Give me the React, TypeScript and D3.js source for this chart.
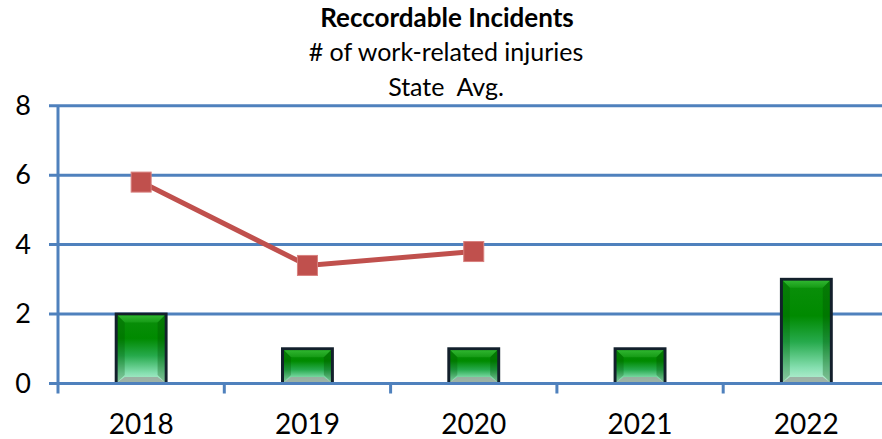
import * as d3 from 'd3'

const years = ['2018', '2019', '2020', '2021', '2022']
const incidents = [2, 1, 1, 1, 3]
const stateAvg: (number | null)[] = [5.8, 3.4, 3.8, null, null]
const yTicks = [0, 2, 4, 6, 8]

const W = 882
const H = 439
const left = 58
const band = 166.3
const top = 105.7
const bottom = 383.5

const font = 'Lato, "Open Sans", sans-serif'

const App = () => {
  const x = d3.scaleBand<string>()
    .domain(years)
    .range([left, left + band * years.length])
    .paddingInner(0.7)
    .paddingOuter(0.35)
  const y = d3.scaleLinear().domain([0, 8]).range([bottom, top])

  const avgPts = years
    .map((yr, i) => ({ yr, v: stateAvg[i] }))
    .filter(d => d.v !== null) as { yr: string; v: number }[]
  const line = d3.line<{ yr: string; v: number }>()
    .x(d => x(d.yr)! + x.bandwidth() / 2)
    .y(d => y(d.v))

  const bev = 7

  return (
    <svg width={W} height={H} style={{ position: 'absolute', left: 0, top: 0, background: '#fff' }}>
      <defs>
        <linearGradient id="barFill" x1="0" y1="0" x2="0" y2="1">
          <stop offset="0" stopColor="#0b8f0b" />
          <stop offset="0.35" stopColor="#008a00" />
          <stop offset="0.6" stopColor="#26aa4c" />
          <stop offset="0.85" stopColor="#86dfb0" />
          <stop offset="1" stopColor="#c0f2da" />
        </linearGradient>
        <linearGradient id="topBev" x1="0" y1="0" x2="0" y2="1">
          <stop offset="0" stopColor="#2fb52f" />
          <stop offset="1" stopColor="#159a15" />
        </linearGradient>
      </defs>

      {/* titles */}
      <text x={447} y={27} textAnchor="middle" fontFamily={font} fontWeight="bold" fontSize={26} fill="#000">
        Reccordable Incidents
      </text>
      <text x={446} y={61} textAnchor="middle" fontFamily={font} fontSize={25} fill="#000">
        # of work-related injuries
      </text>
      <text x={446} y={96} textAnchor="middle" fontFamily={font} fontSize={25} fill="#000" style={{ whiteSpace: 'pre' }}>
        State  Avg.
      </text>

      {/* gridlines */}
      {yTicks.map(t => (
        <g key={t}>
          <line x1={49} x2={W} y1={y(t)} y2={y(t)} stroke="#4f81bd" strokeWidth={3} />
          <text x={23} y={y(t) + 9} textAnchor="middle" fontFamily={font} fontSize={27} fill="#000">{t}</text>
        </g>
      ))}
      {/* y axis */}
      <line x1={left} x2={left} y1={top} y2={bottom + 10} stroke="#4f81bd" strokeWidth={3} />
      {/* x ticks */}
      {years.map((yr, i) => (
        <line key={yr} x1={left + band * (i + 1)} x2={left + band * (i + 1)} y1={bottom} y2={bottom + 10}
          stroke="#4f81bd" strokeWidth={3} />
      ))}

      {/* bars */}
      {years.map((yr, i) => {
        const x0 = x(yr)!
        const w = x.bandwidth()
        const y0 = y(incidents[i])
        const y1 = y(0)
        const h = y1 - y0
        return (
          <g key={yr}>
            <rect x={x0} y={y0} width={w} height={h} fill="url(#barFill)" stroke="#13202c" strokeWidth={3} />
            <polygon points={`${x0 + 1.5},${y0 + 1.5} ${x0 + w - 1.5},${y0 + 1.5} ${x0 + w - 1.5 - bev},${y0 + 1.5 + bev} ${x0 + 1.5 + bev},${y0 + 1.5 + bev}`}
              fill="url(#topBev)" />
            <polygon points={`${x0 + 1.5},${y1 - 1.5} ${x0 + w - 1.5},${y1 - 1.5} ${x0 + w - 1.5 - bev},${y1 - 1.5 - bev + 2} ${x0 + 1.5 + bev},${y1 - 1.5 - bev + 2}`}
              fill="#9aa89f" opacity={0.85} />
            <polygon points={`${x0 + 1.5},${y0 + 1.5} ${x0 + 1.5 + bev},${y0 + 1.5 + bev} ${x0 + 1.5 + bev},${y1 - 1.5 - bev} ${x0 + 1.5},${y1 - 1.5}`}
              fill="#004d00" opacity={0.25} />
            <polygon points={`${x0 + w - 1.5},${y0 + 1.5} ${x0 + w - 1.5 - bev},${y0 + 1.5 + bev} ${x0 + w - 1.5 - bev},${y1 - 1.5 - bev} ${x0 + w - 1.5},${y1 - 1.5}`}
              fill="#004d00" opacity={0.3} />
          </g>
        )
      })}
      <line x1={49} x2={W} y1={y(0)} y2={y(0)} stroke="#4f81bd" strokeWidth={3} />

      {/* state avg line */}
      <path d={line(avgPts)!} fill="none" stroke="#c0504d" strokeWidth={5} />
      {avgPts.map(d => (
        <rect key={d.yr} x={x(d.yr)! + x.bandwidth() / 2 - 10} y={y(d.v) - 10} width={20} height={20}
          fill="#c0504d" stroke="#d8807e" strokeWidth={1} />
      ))}

      {/* x labels */}
      {years.map(yr => (
        <text key={yr} x={x(yr)! + x.bandwidth() / 2} y={434} textAnchor="middle" fontFamily={font} fontSize={28} fill="#000">
          {yr}
        </text>
      ))}
    </svg>
  )
}

export default App
